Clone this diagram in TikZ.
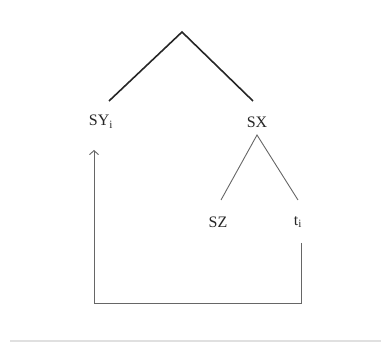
\documentclass[tikz,border=0pt]{standalone}
\usepackage{fontspec}
\setmainfont{Liberation Serif}
\usetikzlibrary{arrows.meta}
\begin{document}
\begin{tikzpicture}[x=1pt, y=-1pt, >={Straight Barb[length=4pt, width=9pt]},
    lbl/.style={font=\fontsize{16}{18}\selectfont, text=black!85, inner sep=0pt},
    upper/.style={line width=1.6pt, black!85},
    lower/.style={line width=0.9pt, black!60}]
    \useasboundingbox (0,0) rectangle (381,342);
    % Labels
    \node[lbl] (sy) at (101,122) {SY\textsubscript{i}};
    \node[lbl] (sx) at (257,122) {SX};
    \node[lbl] (sz) at (218,222) {SZ};
    \node[lbl] (t) at (298,222) {t\textsubscript{i}};
    
    % Upper branches
    \coordinate (root) at (182,32);
    \coordinate (syend) at (109,101);
    \coordinate (sxend) at (253,101);
    \draw[upper] (syend) -- (root) -- (sxend);
    
    % Lower branches
    \coordinate (sxtop) at (257,135);
    \coordinate (szend) at (221,200);
    \coordinate (tend) at (298,200);
    \draw[lower] (szend) -- (sxtop) -- (tend);
    
    % Movement line
    \coordinate (tlow) at (301,243);
    \coordinate (corner) at (301,303);
    \coordinate (back) at (94,303);
    \coordinate (up) at (94,150);
    \draw[lower, ->] (tlow) -- (corner) -- (back) -- (up);
    
    % Bottom rule
    \draw[line width=2pt, black!12] (10,341) -- (381,341);
\end{tikzpicture}
\end{document}
